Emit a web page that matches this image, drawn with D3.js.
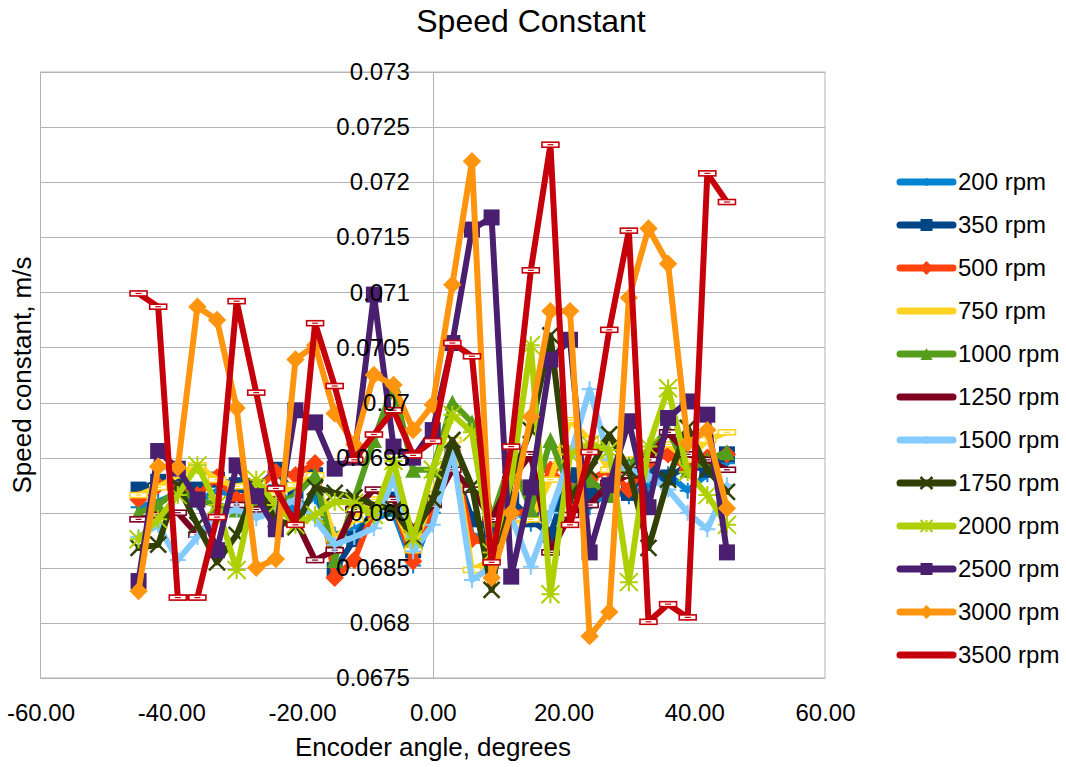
<!DOCTYPE html>
<html>
<head>
<meta charset="utf-8">
<script src="https://cdn.jsdelivr.net/npm/d3@7"></script>
<style>
  html, body { margin: 0; padding: 0; background: #fff; }
  svg { display: block; font-family: "Liberation Sans", Arial, sans-serif; }
</style>
</head>
<body>
<svg id="chart" width="1066" height="767"></svg>
<script>
// ---- data ----
const angles = [-45,-42,-39,-36,-33,-30,-27,-24,-21,-18,-15,-12,-9,-6,-3,0,3,6,9,12,15,18,21,24,27,30,33,36,39,42,45];

const rpm200  = [0.06905,0.06910,0.06918,0.06910,0.06920,0.06915,0.06905,0.06925,0.06900,0.06915,0.06880,0.06885,0.06895,0.06900,0.06852,0.06900,0.06950,0.06880,0.06875,0.06905,0.06890,0.06900,0.06925,0.06905,0.06920,0.06915,0.06925,0.06935,0.06920,0.06935,0.06945];
const rpm350  = [0.06921,0.06928,0.06925,0.06921,0.06930,0.06925,0.06921,0.06939,0.06916,0.06934,0.06848,0.06876,0.06903,0.06912,0.06866,0.06912,0.06948,0.06894,0.06885,0.06912,0.06894,0.06880,0.06934,0.06916,0.06921,0.06918,0.06939,0.06932,0.06943,0.06939,0.06953];
const rpm500  = [0.06912,0.06925,0.06921,0.06916,0.06932,0.06912,0.06921,0.06937,0.06934,0.06945,0.06841,0.06857,0.06903,0.06907,0.06856,0.06907,0.06957,0.06876,0.06871,0.06898,0.06903,0.06939,0.06921,0.06930,0.06939,0.06921,0.06946,0.06953,0.06939,0.06950,0.06953];
const rpm750  = [0.06916,0.06923,0.06934,0.06943,0.06930,0.06924,0.06927,0.06916,0.06925,0.06934,0.06876,0.06894,0.06912,0.06907,0.06866,0.06916,0.06966,0.06848,0.06857,0.06889,0.06894,0.06930,0.06984,0.06966,0.06939,0.06948,0.06953,0.06962,0.06948,0.06966,0.06973];
const rpm1000 = [0.06900,0.06907,0.06921,0.06912,0.06907,0.06903,0.06912,0.06907,0.06916,0.06934,0.06857,0.06912,0.06966,0.07016,0.06939,0.06939,0.07000,0.06982,0.06894,0.06948,0.06903,0.06966,0.06921,0.06930,0.06916,0.06944,0.06957,0.06975,0.06939,0.06948,0.06955];
const rpm1250 = [0.06894,0.06898,0.06900,0.06880,0.06896,0.06907,0.06903,0.06912,0.06894,0.06857,0.06866,0.06903,0.06921,0.06912,0.06885,0.06907,0.06939,0.06921,0.06894,0.06930,0.06953,0.06864,0.06898,0.06907,0.06927,0.06934,0.06948,0.06973,0.06953,0.06948,0.06939];
const rpm1500 = [0.06878,0.06889,0.06857,0.06878,0.06898,0.06903,0.06895,0.06903,0.06912,0.06894,0.06871,0.06878,0.06886,0.06932,0.06865,0.06889,0.06957,0.06839,0.06851,0.06896,0.06851,0.06900,0.06951,0.07012,0.06948,0.06939,0.06934,0.06921,0.06900,0.06885,0.06925];
const rpm1750 = [0.06868,0.06871,0.06925,0.06889,0.06855,0.06880,0.06924,0.06894,0.06887,0.06923,0.06918,0.06914,0.06907,0.06903,0.06878,0.06912,0.06966,0.06924,0.06830,0.06930,0.06975,0.07061,0.06912,0.06939,0.06971,0.06939,0.06868,0.06930,0.06977,0.06939,0.06919];
const rpm2000 = [0.06876,0.06894,0.06916,0.06943,0.06907,0.06848,0.06930,0.06907,0.06889,0.06898,0.06910,0.06909,0.06898,0.06947,0.06876,0.06939,0.06989,0.06973,0.06864,0.06930,0.07052,0.06826,0.06953,0.06962,0.06957,0.06837,0.06960,0.07013,0.06937,0.06916,0.06889];
const rpm2500 = [0.06838,0.06956,0.06940,0.06912,0.06866,0.06943,0.06915,0.06885,0.06993,0.06982,0.06940,0.06950,0.07098,0.06960,0.06950,0.06975,0.07054,0.07157,0.07168,0.06842,0.06923,0.07039,0.07057,0.06864,0.06925,0.06983,0.06905,0.06986,0.07001,0.06989,0.06864];
const rpm3000 = [0.06829,0.06942,0.06941,0.07087,0.07075,0.06995,0.06850,0.06858,0.07039,0.07052,0.06990,0.06962,0.07025,0.07016,0.06975,0.06998,0.07107,0.07219,0.06841,0.06900,0.06987,0.07083,0.07083,0.06788,0.06810,0.07095,0.07158,0.07126,0.06963,0.06975,0.06904];
const rpm3500 = [0.07099,0.07087,0.06823,0.06823,0.06896,0.07092,0.07009,0.06922,0.06889,0.07072,0.07015,0.06948,0.06971,0.06993,0.06952,0.06965,0.07054,0.07042,0.06855,0.06960,0.07120,0.07234,0.06889,0.06955,0.07066,0.07156,0.06801,0.06817,0.06805,0.07208,0.07182];

const seriesNames   = ["200 rpm","350 rpm","500 rpm","750 rpm","1000 rpm","1250 rpm","1500 rpm","1750 rpm","2000 rpm","2500 rpm","3000 rpm","3500 rpm"];
const seriesValues  = [rpm200, rpm350, rpm500, rpm750, rpm1000, rpm1250, rpm1500, rpm1750, rpm2000, rpm2500, rpm3000, rpm3500];
const seriesColors  = ["#0084d1","#004586","#ff420e","#ffd320","#579d1c","#7e0021","#83caff","#314004","#aecf00","#4b1f6f","#ff950e","#c5000b"];
const seriesMarkers = ["plus","square","diamond","bar","triangle","bar","plus","x","asterisk","square","diamond","bar"];

const xTicks = [-60,-40,-20,0,20,40,60];
const xTickLabels = ["-60.00","-40.00","-20.00","0.00","20.00","40.00","60.00"];
const yTicks = [0.0675,0.068,0.0685,0.069,0.0695,0.07,0.0705,0.071,0.0715,0.072,0.0725,0.073];
const yTickLabels = ["0.0675","0.068","0.0685","0.069","0.0695","0.07","0.0705","0.071","0.0715","0.072","0.0725","0.073"];

const titleText = "Speed Constant";
const xTitle = "Encoder angle, degrees";
const yTitle = "Speed constant, m/s";

// ---- layout ----
const svg = d3.select("#chart");
const L = 40.5, R = 825, T = 72, B = 678;
const x = d3.scaleLinear().domain([-60, 60]).range([L, R]);
const y = d3.scaleLinear().domain([0.0675, 0.073]).range([B, T]);
const gridColor = "#b3b3b3";

// plot border
svg.append("rect").attr("x", L).attr("y", T).attr("width", R - L).attr("height", B - T)
  .attr("fill", "none").attr("stroke", gridColor).attr("stroke-width", 1);

// horizontal grid
svg.append("g").selectAll("line").data(yTicks).join("line")
  .attr("x1", L).attr("x2", R)
  .attr("y1", d => Math.round(y(d)) + 0.5).attr("y2", d => Math.round(y(d)) + 0.5)
  .attr("stroke", gridColor).attr("stroke-width", 1);

// y axis line at x = 0
svg.append("line").attr("x1", Math.round(x(0)) + 0.5).attr("x2", Math.round(x(0)) + 0.5)
  .attr("y1", T).attr("y2", B).attr("stroke", gridColor).attr("stroke-width", 1);

// x axis
const xAxis = d3.axisBottom(x).tickValues(xTicks).tickSize(0).tickPadding(26)
  .tickFormat((d, i) => xTickLabels[i]);
const gx = svg.append("g").attr("transform", `translate(0,${B})`).call(xAxis);
gx.select(".domain").remove();
gx.selectAll("text").attr("font-size", 24).attr("fill", "#000")
  .attr("font-family", "Liberation Sans, Arial, sans-serif");

// y axis labels (drawn after series so they appear on top like the reference)
function drawYAxis() {
  const yAxis = d3.axisLeft(y).tickValues(yTicks).tickSize(0).tickPadding(23)
    .tickFormat((d, i) => yTickLabels[i]);
  const gy = svg.append("g").attr("transform", `translate(${x(0)},0)`).call(yAxis);
  gy.select(".domain").remove();
  gy.selectAll("text").attr("font-size", 24).attr("fill", "#000")
    .attr("font-family", "Liberation Sans, Arial, sans-serif");
}

// ---- marker drawing ----
function marker(g, type, color, s) {
  const h = s / 2;
  switch (type) {
    case "square":
      g.append("rect").attr("x", -h).attr("y", -h).attr("width", s).attr("height", s).attr("fill", color);
      break;
    case "diamond":
      g.append("path").attr("d", `M0,${-h*1.15}L${h*1.15},0L0,${h*1.15}L${-h*1.15},0Z`).attr("fill", color);
      break;
    case "triangle":
      g.append("path").attr("d", `M0,${-h}L${h},${h}L${-h},${h}Z`).attr("fill", color);
      break;
    case "plus":
      g.append("path").attr("d", `M${-h},0H${h}M0,${-h}V${h}`).attr("stroke", color).attr("stroke-width", 2).attr("fill", "none");
      break;
    case "x":
      g.append("path").attr("d", `M${-h},${-h}L${h},${h}M${-h},${h}L${h},${-h}`).attr("stroke", color).attr("stroke-width", 2.5).attr("fill", "none");
      break;
    case "asterisk":
      g.append("path").attr("d", `M${-h},${-h}L${h},${h}M${-h},${h}L${h},${-h}M0,${-h}V${h}M${-h},0H${h}`)
        .attr("stroke", color).attr("stroke-width", 2).attr("fill", "none");
      break;
    case "bar":
      g.append("rect").attr("x", -h).attr("y", -2.5).attr("width", s).attr("height", 5)
        .attr("fill", "#fff").attr("stroke", color).attr("stroke-width", 1.6);
      g.append("line").attr("x1", -h * 0.35).attr("x2", h * 0.35).attr("y1", 0).attr("y2", 0)
        .attr("stroke", color).attr("stroke-width", 1.2);
      break;
  }
}

// ---- series ----
const line = d3.line().x((d, i) => x(angles[i])).y(d => y(d));
seriesValues.forEach((vals, k) => {
  const g = svg.append("g");
  g.append("path").attr("d", line(vals)).attr("fill", "none")
    .attr("stroke", seriesColors[k]).attr("stroke-width", 6)
    .attr("stroke-linejoin", "round").attr("stroke-linecap", "round");
  const sz = seriesMarkers[k] === "bar" ? 17 : (seriesMarkers[k] === "asterisk" ? 18 : 16);
  vals.forEach((v, i) => {
    const mg = g.append("g").attr("transform", `translate(${x(angles[i])},${y(v)})`);
    marker(mg, seriesMarkers[k], seriesColors[k], sz);
  });
});

drawYAxis();

// ---- titles ----
svg.append("text").attr("x", 531).attr("y", 32).attr("text-anchor", "middle")
  .attr("font-size", 32).attr("fill", "#000").text(titleText);
svg.append("text").attr("x", 433).attr("y", 756).attr("text-anchor", "middle")
  .attr("font-size", 26).attr("fill", "#000").text(xTitle);
svg.append("text").attr("transform", "translate(31,375) rotate(-90)").attr("text-anchor", "middle")
  .attr("font-size", 26).attr("fill", "#000").text(yTitle);

// ---- legend ----
const legY0 = 182, legStep = 43;
seriesNames.forEach((name, k) => {
  const ly = legY0 + k * legStep;
  const g = svg.append("g");
  g.append("line").attr("x1", 900).attr("x2", 953).attr("y1", ly).attr("y2", ly)
    .attr("stroke", seriesColors[k]).attr("stroke-width", 7).attr("stroke-linecap", "round");
  if (seriesMarkers[k] !== "bar") {
    const mg = g.append("g").attr("transform", `translate(926.5,${ly})`);
    marker(mg, seriesMarkers[k], seriesColors[k], seriesMarkers[k] === "plus" ? 8 : 12);
  }
  g.append("text").attr("x", 958).attr("y", ly).attr("dy", "0.35em")
    .attr("font-size", 24).attr("fill", "#000").text(name);
});
</script>
</body>
</html>
